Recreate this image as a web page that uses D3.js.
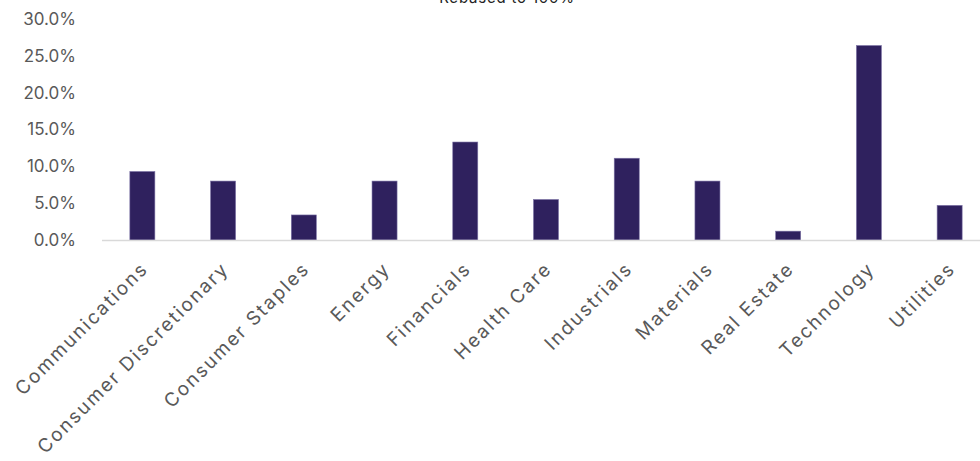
<!DOCTYPE html>
<html>
<head>
<meta charset="utf-8">
<script src="https://cdn.jsdelivr.net/npm/d3@7"></script>
<style>
  html, body { margin: 0; padding: 0; background: #fff; }
  svg { display: block; }
  text { font-family: Inter, "Open Sans", sans-serif; }
</style>
</head>
<body>
<svg id="chart" width="980" height="461"></svg>
<script>
const title = "Rebased to 100%";
const categories = ["Communications", "Consumer Discretionary", "Consumer Staples", "Energy", "Financials", "Health Care", "Industrials", "Materials", "Real Estate", "Technology", "Utilities"];
const values = [9.3, 8.0, 3.4, 8.0, 13.3, 5.5, 11.1, 8.0, 1.2, 26.4, 4.7];
const yTicks = [0, 5, 10, 15, 20, 25, 30];

const svg = d3.select("#chart");
const margin = { left: 102, right: -10, top: 19, bottom: 221 };
const W = 980, H = 461;

const x = d3.scaleBand()
  .domain(categories)
  .range([margin.left, W - margin.right])
  .paddingInner(0.69)
  .paddingOuter(0.345);

const y = d3.scaleLinear().domain([0, 30]).range([240, 19]);

// title
svg.append("text")
  .attr("x", 507).attr("y", 3)
  .attr("text-anchor", "middle")
  .attr("font-size", 15)
  .attr("letter-spacing", 0.8)
  .attr("fill", "#222")
  .text(title);

// y axis labels
const yAxis = d3.axisLeft(y).tickValues(yTicks).tickSize(0).tickPadding(0)
  .tickFormat(d => d.toFixed(1) + "%");
const gy = svg.append("g").attr("transform", "translate(76,0)").call(yAxis);
gy.select(".domain").remove();
gy.selectAll("text").attr("font-size", 17).attr("fill", "#595959")
  .attr("font-family", "Inter, 'Open Sans', sans-serif");

// bars
svg.append("g").selectAll("rect").data(values).join("rect")
  .attr("x", (d, i) => x(categories[i]))
  .attr("width", x.bandwidth())
  .attr("y", d => y(d))
  .attr("height", d => y(0) - y(d))
  .attr("fill", "#2f215e")
  .attr("stroke", "#7d73a6")
  .attr("stroke-width", 0.6);

// baseline
svg.append("line")
  .attr("x1", margin.left).attr("x2", W)
  .attr("y1", y(0) + 0.5).attr("y2", y(0) + 0.5)
  .attr("stroke", "#d9d9d9").attr("stroke-width", 1.5);

// x axis labels
const xAxis = d3.axisBottom(x).tickSize(0).tickPadding(0);
const gx = svg.append("g").attr("transform", `translate(0,${y(0)})`).call(xAxis);
gx.select(".domain").remove();
gx.selectAll("text")
  .attr("font-size", 19)
  .attr("letter-spacing", 2.0)
  .attr("fill", "#595959")
  .attr("font-family", "Inter, 'Open Sans', sans-serif")
  .attr("text-anchor", "end")
  .attr("dy", null)
  .attr("y", 0)
  .attr("transform", "translate(7,30) rotate(-45)");
</script>
</body>
</html>
